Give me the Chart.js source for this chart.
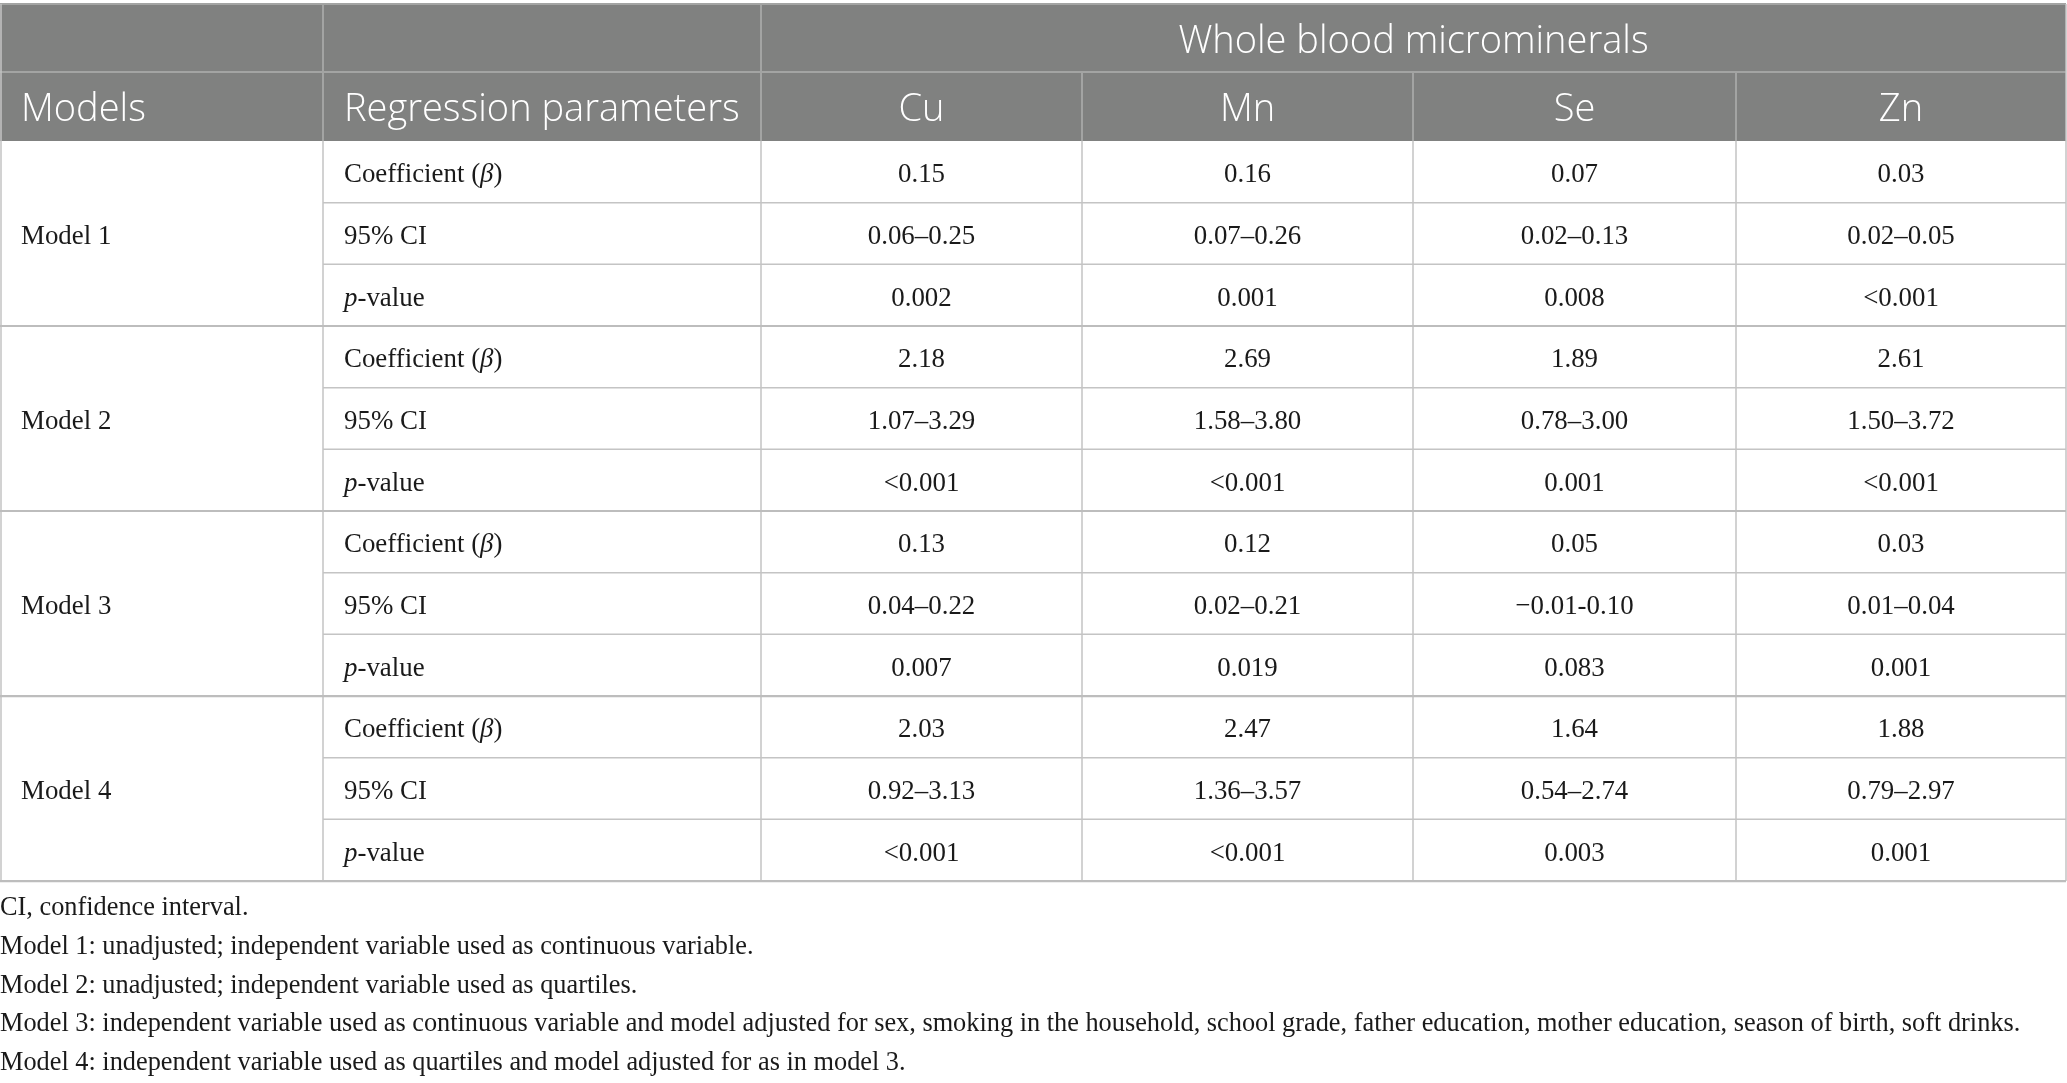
<!DOCTYPE html>
<html>
<head>
<meta charset="utf-8">
<script src="https://cdn.jsdelivr.net/npm/chart.js@4.4.1/dist/chart.umd.min.js"></script>
<style>
  html, body { margin: 0; padding: 0; background: #fff; }
  #wrap { width: 2067px; height: 1083px; }
</style>
</head>
<body>
<div id="wrap"><canvas id="table1"></canvas></div>
<script>
// Table content
const headerGroup = 'Whole blood microminerals';
const columnTitles = ['Models', 'Regression parameters', 'Cu', 'Mn', 'Se', 'Zn'];
const models = ['Model 1', 'Model 2', 'Model 3', 'Model 4'];
const parameters = ['Coefficient (β)', '95% CI', 'p-value'];
const cuValues = ['0.15', '0.06–0.25', '0.002', '2.18', '1.07–3.29', '<0.001', '0.13', '0.04–0.22', '0.007', '2.03', '0.92–3.13', '<0.001'];
const mnValues = ['0.16', '0.07–0.26', '0.001', '2.69', '1.58–3.80', '<0.001', '0.12', '0.02–0.21', '0.019', '2.47', '1.36–3.57', '<0.001'];
const seValues = ['0.07', '0.02–0.13', '0.008', '1.89', '0.78–3.00', '0.001', '0.05', '−0.01-0.10', '0.083', '1.64', '0.54–2.74', '0.003'];
const znValues = ['0.03', '0.02–0.05', '<0.001', '2.61', '1.50–3.72', '<0.001', '0.03', '0.01–0.04', '0.001', '1.88', '0.79–2.97', '0.001'];
const footnotes = [
    'CI, confidence interval.',
    'Model 1: unadjusted; independent variable used as continuous variable.',
    'Model 2: unadjusted; independent variable used as quartiles.',
    'Model 3: independent variable used as continuous variable and model adjusted for sex, smoking in the household, school grade, father education, mother education, season of birth, soft drinks.',
    'Model 4: independent variable used as quartiles and model adjusted for as in model 3.'
];

// Layout (in scale units, which equal page pixels here)
const colEdges = [0, 323, 761, 1082, 1413, 1736, 2066];
const headTop = 4;
const headMid = 72;
const headBottom = 141;
const rowHeight = 61.67;
const noteTop = 908;
const noteStep = 38.6;

const headBg = '#808180';
const headFont = '300 38px "Open Sans"';
const bodyFont = '28px "Liberation Serif"';
const bodyItalic = 'italic 28px "Liberation Serif"';
const cellSqueeze = 0.96;
const noteSqueeze = 0.94;

// split a label into plain / italic pieces (β and the leading p of p-value are italic)
function pieces(text) {
    return text.split(/(β|^p(?=-))/).filter(s => s.length).map(s => ({
        text: s,
        italic: s === 'β' || s === 'p'
    }));
}

function drawSerif(ctx, text, x, y, align, squeeze) {
    const parts = pieces(text);
    let w = 0;
    parts.forEach(p => {
        ctx.font = p.italic ? bodyItalic : bodyFont;
        w += ctx.measureText(p.text).width;
    });
    w *= squeeze;
    let x0 = align === 'center' ? x - w / 2 : x;
    ctx.save();
    ctx.translate(x0, y);
    ctx.scale(squeeze, 1);
    ctx.textAlign = 'left';
    ctx.textBaseline = 'middle';
    let cx = 0;
    parts.forEach(p => {
        ctx.font = p.italic ? bodyItalic : bodyFont;
        ctx.fillText(p.text, cx, 0);
        cx += ctx.measureText(p.text).width;
    });
    ctx.restore();
}

const tablePlugin = {
    id: 'tablePlugin',
    afterDraw(chart) {
        const ctx = chart.ctx;
        const xs = chart.scales.x;
        const ys = chart.scales.y;
        const X = v => xs.getPixelForValue(v);
        const Y = v => ys.getPixelForValue(v);
        const columns = [cuValues, mnValues, seValues, znValues];
        const nRows = cuValues.length;
        const rowY = i => headBottom + i * rowHeight;
        const left = X(colEdges[0]);
        const right = X(colEdges[colEdges.length - 1]);

        ctx.save();
        // header background
        ctx.fillStyle = headBg;
        ctx.fillRect(left, Y(headTop), right - left, Y(headBottom) - Y(headTop));

        // header lines
        ctx.strokeStyle = '#a3a4a3';
        ctx.lineWidth = 2;
        ctx.beginPath();
        ctx.moveTo(left, Y(headTop)); ctx.lineTo(right, Y(headTop));
        ctx.moveTo(left, Y(headMid)); ctx.lineTo(right, Y(headMid));
        for (let c = 1; c < colEdges.length - 1; c++) {
            const top = c <= 2 ? headTop : headMid;
            ctx.moveTo(X(colEdges[c]), Y(top));
            ctx.lineTo(X(colEdges[c]), Y(headBottom));
        }
        ctx.stroke();

        // body grid
        ctx.strokeStyle = '#c4c4c4';
        ctx.lineWidth = 1.5;
        ctx.beginPath();
        for (let i = 1; i < nRows; i++) {
            if (i % parameters.length === 0) continue;
            ctx.moveTo(X(colEdges[1]), Y(rowY(i)));
            ctx.lineTo(right, Y(rowY(i)));
        }
        for (let c = 1; c < colEdges.length - 1; c++) {
            ctx.moveTo(X(colEdges[c]), Y(headBottom));
            ctx.lineTo(X(colEdges[c]), Y(rowY(nRows)));
        }
        ctx.moveTo(left + 1, Y(headTop));
        ctx.lineTo(left + 1, Y(rowY(nRows)));
        ctx.moveTo(right, Y(headTop));
        ctx.lineTo(right, Y(rowY(nRows)));
        ctx.stroke();

        // model group separators and bottom rule
        ctx.strokeStyle = '#bdbdbd';
        ctx.lineWidth = 2.2;
        ctx.beginPath();
        for (let g = 1; g <= models.length; g++) {
            const yy = Y(rowY(g * parameters.length));
            ctx.moveTo(left, yy);
            ctx.lineTo(right, yy);
        }
        ctx.stroke();

        // header text
        ctx.fillStyle = '#ffffff';
        ctx.font = headFont;
        ctx.textBaseline = 'middle';
        ctx.textAlign = 'center';
        ctx.fillText(headerGroup, (X(colEdges[2]) + right) / 2, Y((headTop + headMid) / 2) + 4);
        const headY = Y((headMid + headBottom) / 2) + 4;
        ctx.textAlign = 'left';
        ctx.fillText(columnTitles[0], X(colEdges[0]) + 21, headY);
        ctx.fillText(columnTitles[1], X(colEdges[1]) + 21, headY);
        ctx.textAlign = 'center';
        for (let c = 2; c < columnTitles.length; c++) {
            ctx.fillText(columnTitles[c], (X(colEdges[c]) + X(colEdges[c + 1])) / 2, headY);
        }

        // body text
        ctx.fillStyle = '#1a1a1a';
        models.forEach((m, g) => {
            const mid = (rowY(g * parameters.length) + rowY((g + 1) * parameters.length)) / 2;
            drawSerif(ctx, m, X(colEdges[0]) + 21, Y(mid) + 3, 'left', cellSqueeze);
        });
        for (let i = 0; i < nRows; i++) {
            const cy = Y(rowY(i) + rowHeight / 2) + 3;
            drawSerif(ctx, parameters[i % parameters.length], X(colEdges[1]) + 21, cy, 'left', cellSqueeze);
            columns.forEach((vals, c) => {
                const cx = (X(colEdges[c + 2]) + X(colEdges[c + 3])) / 2;
                drawSerif(ctx, vals[i], cx, cy, 'center', cellSqueeze);
            });
        }

        // footnotes
        footnotes.forEach((n, k) => {
            drawSerif(ctx, n, X(0), Y(noteTop + k * noteStep), 'left', noteSqueeze);
        });
        ctx.restore();
    }
};

new Chart(document.getElementById('table1'), {
    type: 'scatter',
    data: { datasets: [{ data: [], pointRadius: 0 }] },
    options: {
        responsive: true,
        maintainAspectRatio: false,
        animation: false,
        layout: { padding: 0 },
        plugins: { legend: { display: false }, tooltip: { enabled: false } },
        scales: {
            x: { type: 'linear', min: 0, max: 2067, display: false },
            y: { type: 'linear', min: 0, max: 1083, reverse: true, display: false }
        }
    },
    plugins: [tablePlugin]
});
</script>
</body>
</html>
